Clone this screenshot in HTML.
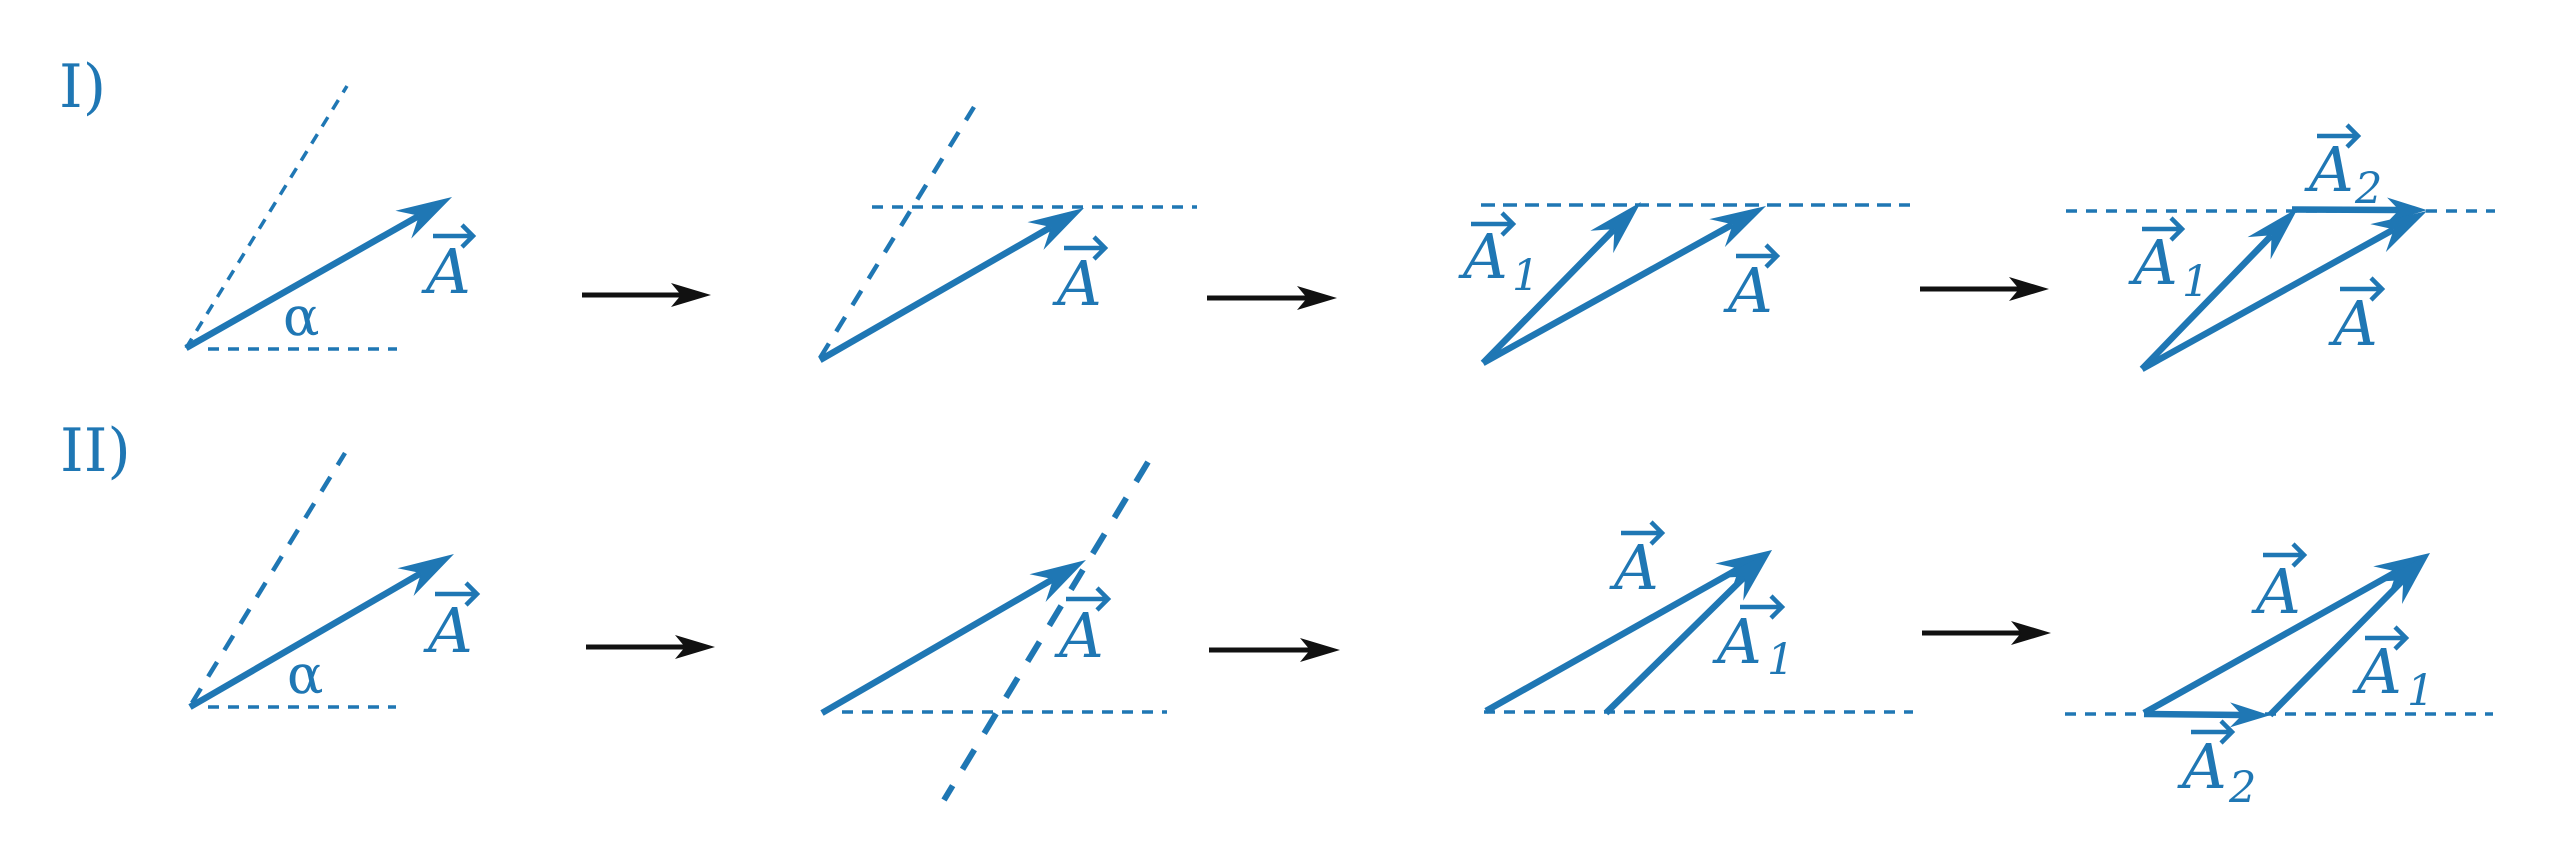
<!DOCTYPE html>
<html>
<head>
<meta charset="utf-8">
<style>
  html, body { margin: 0; padding: 0; background: #ffffff; }
  body { width: 2560px; height: 864px; overflow: hidden; }
  svg { display: block; }
  .fine { stroke: #1f77b4; stroke-width: 3.5; stroke-dasharray: 11 9; fill: none; }
  .fine2 { stroke: #1f77b4; stroke-width: 3.5; stroke-dasharray: 14 8; fill: none; }
  .med { stroke: #1f77b4; stroke-width: 4.5; stroke-dasharray: 17 14; fill: none; }
  .thick { stroke: #1f77b4; stroke-width: 6; stroke-dasharray: 23 19; fill: none; }
  .vec { stroke: #1f77b4; stroke-width: 6.5; fill: none; stroke-linecap: butt; marker-end: url(#hb); }
  .vec2 { stroke: #1f77b4; stroke-width: 6.5; fill: none; stroke-linecap: butt; marker-end: url(#hs); }
  .blk { stroke: #111111; stroke-width: 5; fill: none; stroke-linecap: butt; marker-end: url(#hk); }
  .acc { stroke: #1f77b4; stroke-width: 4.5; fill: none; stroke-linecap: butt; stroke-linejoin: miter; }
  .A { font-family: "DejaVu Serif", "Liberation Serif", serif; font-style: italic; font-size: 62px; fill: #1f77b4; }
  .sub { font-family: "DejaVu Serif", "Liberation Serif", serif; font-style: italic; font-size: 43px; fill: #1f77b4; }
  .lab { font-family: "DejaVu Serif", "Liberation Serif", serif; font-size: 60px; fill: #1f77b4; }
  .al { font-family: "DejaVu Serif", "Liberation Serif", serif; font-size: 54px; fill: #1f77b4; }
</style>
</head>
<body>
<svg width="2560" height="864" viewBox="0 0 2560 864" xmlns="http://www.w3.org/2000/svg">
  <defs>
    <marker id="hb" markerUnits="userSpaceOnUse" orient="auto" refX="0" refY="0" markerWidth="1" markerHeight="1" style="overflow:visible">
      <path d="M38,0 L-18,-16 L0,0 L-18,16 Z" fill="#1f77b4"/>
    </marker>
    <marker id="hs" markerUnits="userSpaceOnUse" orient="auto" refX="0" refY="0" markerWidth="1" markerHeight="1" style="overflow:visible">
      <path d="M28,0 L-12,-12.5 L0,0 L-12,12.5 Z" fill="#1f77b4"/>
    </marker>
    <marker id="hk" markerUnits="userSpaceOnUse" orient="auto" refX="0" refY="0" markerWidth="1" markerHeight="1" style="overflow:visible">
      <path d="M30,0 L-10,-12 L0,0 L-10,12 Z" fill="#111111"/>
    </marker>
  </defs>

  <!-- Row labels -->
  <text x="59" y="107" class="lab">I)</text>
  <text x="60" y="471" class="lab">II)</text>

  <!-- ================= ROW I ================= -->
  <!-- Panel I-1 -->
  <line x1="186" y1="348" x2="347" y2="86" class="fine"/>
  <line x1="208" y1="349" x2="397" y2="349" class="fine"/>
  <line x1="186" y1="348" x2="419" y2="215.8" class="vec"/>
  <text x="283" y="335" class="al">α</text>
  <text x="426" y="293" class="A">A</text>
  <path class="acc" d="M433,236H471M462,225L473,236L462,247"/>

  <line x1="582" y1="295" x2="681" y2="295" class="blk"/>

  <!-- Panel I-2 -->
  <line x1="820" y1="358" x2="974" y2="107" class="med"/>
  <line x1="872" y1="207" x2="1197" y2="207" class="fine"/>
  <line x1="820" y1="360" x2="1051.1" y2="227" class="vec"/>
  <text x="1057" y="305" class="A">A</text>
  <path class="acc" d="M1064,248H1103M1094,237L1105,248L1094,259"/>

  <line x1="1207" y1="298" x2="1307" y2="298" class="blk"/>

  <!-- Panel I-3 -->
  <line x1="1481" y1="205" x2="1910" y2="205" class="fine2"/>
  <line x1="1483" y1="363" x2="1614.4" y2="229.1" class="vec"/>
  <line x1="1483" y1="363" x2="1732.8" y2="224.4" class="vec"/>
  <text x="1463" y="278" class="A">A</text>
  <text x="1512" y="290" class="sub">1</text>
  <path class="acc" d="M1471,224H1511M1502,213L1513,224L1502,235"/>
  <text x="1728" y="312" class="A">A</text>
  <path class="acc" d="M1736,256H1775M1766,245L1777,256L1766,267"/>

  <line x1="1920" y1="289" x2="2019" y2="289" class="blk"/>

  <!-- Panel I-4 -->
  <line x1="2066" y1="211" x2="2495" y2="211" class="fine"/>
  <line x1="2142" y1="369" x2="2271.6" y2="235.3" class="vec"/>
  <line x1="2292" y1="209.5" x2="2399" y2="210" class="vec2"/>
  <line x1="2142" y1="369" x2="2393.8" y2="229.4" class="vec"/>
  <text x="2309" y="191" class="A">A</text>
  <text x="2355" y="203" class="sub">2</text>
  <path class="acc" d="M2317,136H2356M2347,125L2358,136L2347,147"/>
  <text x="2133" y="284" class="A">A</text>
  <text x="2182" y="296" class="sub">1</text>
  <path class="acc" d="M2142,229H2180M2171,218L2182,229L2171,240"/>
  <text x="2333" y="345" class="A">A</text>
  <path class="acc" d="M2340,289H2380M2371,278L2382,289L2371,300"/>

  <!-- ================= ROW II ================= -->
  <!-- Panel II-1 -->
  <line x1="192" y1="703" x2="345" y2="453" class="med"/>
  <line x1="208" y1="707" x2="396" y2="707" class="fine"/>
  <line x1="190" y1="707" x2="421.1" y2="573.1" class="vec"/>
  <text x="287" y="693" class="al">α</text>
  <text x="428" y="652" class="A">A</text>
  <path class="acc" d="M435,594H475M466,583L477,594L466,605"/>

  <line x1="586" y1="647" x2="685" y2="647" class="blk"/>

  <!-- Panel II-2 -->
  <line x1="842" y1="712" x2="1167" y2="712" class="fine"/>
  <line x1="1148" y1="462" x2="944" y2="800" class="thick"/>
  <line x1="822" y1="713" x2="1053.1" y2="579.1" class="vec"/>
  <text x="1059" y="657" class="A">A</text>
  <path class="acc" d="M1066,599H1106M1097,588L1108,599L1097,610"/>

  <line x1="1209" y1="650" x2="1310" y2="650" class="blk"/>

  <!-- Panel II-3 -->
  <line x1="1484" y1="712" x2="1913" y2="712" class="fine"/>
  <line x1="1486" y1="711" x2="1738.9" y2="568.6" class="vec"/>
  <line x1="1606" y1="713" x2="1744.9" y2="576.6" class="vec"/>
  <text x="1614" y="589" class="A">A</text>
  <path class="acc" d="M1621,533H1660M1651,522L1662,533L1651,544"/>
  <text x="1717" y="663" class="A">A</text>
  <text x="1767" y="674" class="sub">1</text>
  <path class="acc" d="M1740,607H1780M1771,596L1782,607L1771,618"/>

  <line x1="1922" y1="633" x2="2021" y2="633" class="blk"/>

  <!-- Panel II-4 -->
  <line x1="2065" y1="714" x2="2493" y2="714" class="fine"/>
  <line x1="2144" y1="713" x2="2396.8" y2="571.6" class="vec"/>
  <line x1="2270" y1="715" x2="2403.3" y2="580" class="vec"/>
  <line x1="2144" y1="714" x2="2242" y2="715" class="vec2"/>
  <text x="2256" y="613" class="A">A</text>
  <path class="acc" d="M2263,555H2302M2293,544L2304,555L2293,566"/>
  <text x="2357" y="693" class="A">A</text>
  <text x="2407" y="705" class="sub">1</text>
  <path class="acc" d="M2365,638H2404M2395,627L2406,638L2395,649"/>
  <text x="2182" y="788" class="A">A</text>
  <text x="2229" y="802" class="sub">2</text>
  <path class="acc" d="M2191,732H2230M2221,721L2232,732L2221,743"/>
</svg>
</body>
</html>
